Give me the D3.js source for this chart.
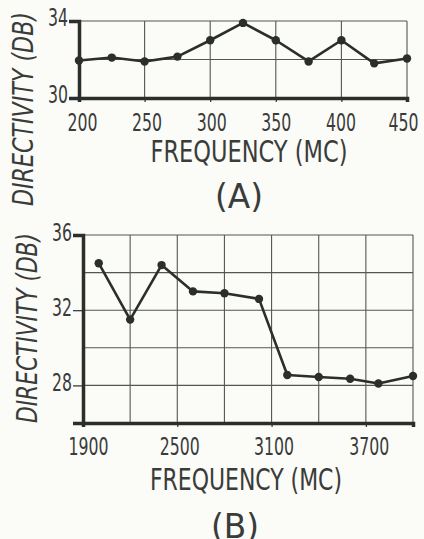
<!DOCTYPE html>
<html>
<head>
<meta charset="utf-8">
<script src="https://cdn.jsdelivr.net/npm/d3@7"></script>
<style>
  body { margin: 0; background: #fbfbf8; }
  svg { display: block; }
  text { font-family: "Liberation Sans Narrow", "DejaVu Sans Condensed", "Roboto", sans-serif; fill: #3a3c3a; }
</style>
</head>
<body>
<div id="chart"></div>
<script>
// Data
const freqA = [200, 225, 250, 275, 300, 325, 350, 375, 400, 425, 450]
const dirA = [31.95, 32.1, 31.9, 32.15, 33.0, 33.9, 33.0, 31.9, 33.0, 31.8, 32.05]
const xTicksA = [200, 250, 300, 350, 400, 450]
const yTicksA = [30, 34]

const freqB = [2000, 2200, 2400, 2600, 2800, 3020, 3200, 3400, 3600, 3780, 4000]
const dirB = [34.5, 31.5, 34.4, 33.0, 32.9, 32.6, 28.55, 28.45, 28.35, 28.1, 28.5]
const xTicksB = [1900, 2500, 3100, 3700]
const yTicksB = [28, 32, 36]

const ink = '#2b2f2b'
const digitW = 10 // width of one digit in the tick labels

const svg = d3.select('#chart')
  .append('svg')
  .attr('width', 424)
  .attr('height', 539)

svg.append('rect').attr('width', 424).attr('height', 539).attr('fill', '#fbfbf8')

function panel(cfg) {
  const x = d3.scaleLinear().domain(cfg.xDomain).range(cfg.xRange)
  const y = d3.scaleLinear().domain(cfg.yDomain).range(cfg.yRange)
  const g = svg.append('g')

  // grid
  g.append('g').selectAll('line')
    .data(cfg.xGrid)
    .join('line')
    .attr('x1', d => x(d)).attr('x2', d => x(d))
    .attr('y1', y.range()[0]).attr('y2', y.range()[1])
    .attr('stroke', '#555').attr('stroke-width', 1.1)
  g.append('g').selectAll('line')
    .data(cfg.yGrid)
    .join('line')
    .attr('y1', d => y(d)).attr('y2', d => y(d))
    .attr('x1', x.range()[0]).attr('x2', x.range()[1])
    .attr('stroke', '#555').attr('stroke-width', 1.1)

  // axes
  const xAxis = d3.axisBottom(x)
    .tickValues(cfg.xTicks)
    .tickFormat(d3.format('d'))
    .tickSize(4)
    .tickPadding(cfg.xPad)
  const xg = g.append('g')
    .attr('transform', `translate(0, ${y.range()[0]})`)
    .call(xAxis)
  xg.select('.domain').attr('stroke', ink).attr('stroke-width', 3.5)
  xg.selectAll('.tick line').attr('stroke', ink).attr('stroke-width', 1.2)
  xg.selectAll('.tick text')
    .attr('font-size', cfg.tickFont)
    .attr('dx', (d, i) => cfg.xdx[i])
    .attr('textLength', d => String(d).length * digitW)
    .attr('lengthAdjust', 'spacingAndGlyphs')
    .attr('fill', '#3a3c3a')

  const yAxis = d3.axisLeft(y)
    .tickValues(cfg.yTicks)
    .tickFormat(d3.format('d'))
    .tickSize(10)
    .tickPadding(1)
  const yg = g.append('g')
    .attr('transform', `translate(${x.range()[0]}, 0)`)
    .call(yAxis)
  yg.select('.domain').attr('stroke', ink).attr('stroke-width', 3.5)
  yg.selectAll('.tick line').attr('stroke', ink).attr('stroke-width', 1.2)
  yg.selectAll('.tick text')
    .attr('font-size', cfg.tickFont)
    .attr('dy', '0.2em')
    .attr('textLength', d => String(d).length * digitW)
    .attr('lengthAdjust', 'spacingAndGlyphs')
    .attr('fill', '#3a3c3a')

  // line
  const line = d3.line()
    .x((d, i) => x(cfg.xs[i]))
    .y(d => y(d))
  g.append('path')
    .datum(cfg.ys)
    .attr('d', line)
    .attr('fill', 'none')
    .attr('stroke', ink)
    .attr('stroke-width', 2.6)
    .attr('stroke-linejoin', 'round')

  g.append('g').selectAll('circle')
    .data(cfg.ys)
    .join('circle')
    .attr('cx', (d, i) => x(cfg.xs[i]))
    .attr('cy', d => y(d))
    .attr('r', 4.2)
    .attr('fill', ink)

  // titles
  g.append('text')
    .text('FREQUENCY (MC)')
    .attr('x', cfg.xTitle[0])
    .attr('y', cfg.xTitle[1])
    .attr('text-anchor', 'middle')
    .attr('font-size', 31)
    .attr('textLength', cfg.xTitle[2])
    .attr('lengthAdjust', 'spacingAndGlyphs')

  g.append('text')
    .text(cfg.letter)
    .attr('x', cfg.letterPos[0])
    .attr('y', cfg.letterPos[1])
    .attr('text-anchor', 'middle')
    .attr('font-size', 34)
    .attr('textLength', 48)
    .attr('lengthAdjust', 'spacingAndGlyphs')

  g.append('text')
    .text('DIRECTIVITY (DB)')
    .attr('transform', `translate(${cfg.yTitle[0]}, ${cfg.yTitle[1]}) rotate(-90)`)
    .attr('text-anchor', 'middle')
    .attr('font-size', 29)
    .attr('font-style', 'italic')
    .attr('textLength', cfg.yTitle[2])
    .attr('lengthAdjust', 'spacingAndGlyphs')
}

panel({
  xDomain: [200, 450], xRange: [79, 407],
  yDomain: [30, 34], yRange: [98, 21],
  xGrid: [250, 300, 350, 400, 450], yGrid: [32, 34],
  xTicks: xTicksA, yTicks: yTicksA,
  xs: freqA, ys: dirA,
  tickFont: 24, xPad: 12, xdx: [3, 2, 1, 0, -1, -4],
  xTitle: [249, 162, 197],
  letter: '(A)', letterPos: [239, 208],
  yTitle: [33, 109, 194]
})

panel({
  xDomain: [1900, 4000], xRange: [83, 413],
  yDomain: [26, 36], yRange: [423, 235],
  xGrid: [2200, 2500, 2800, 3100, 3400, 3700, 4000], yGrid: [28, 30, 32, 34, 36],
  xTicks: xTicksB, yTicks: yTicksB,
  xs: freqB, ys: dirB,
  tickFont: 25, xPad: 10, xdx: [5, 2, 2, 3],
  xTitle: [246, 490, 192],
  letter: '(B)', letterPos: [235, 538],
  yTitle: [37, 328, 190]
})
</script>
</body>
</html>
